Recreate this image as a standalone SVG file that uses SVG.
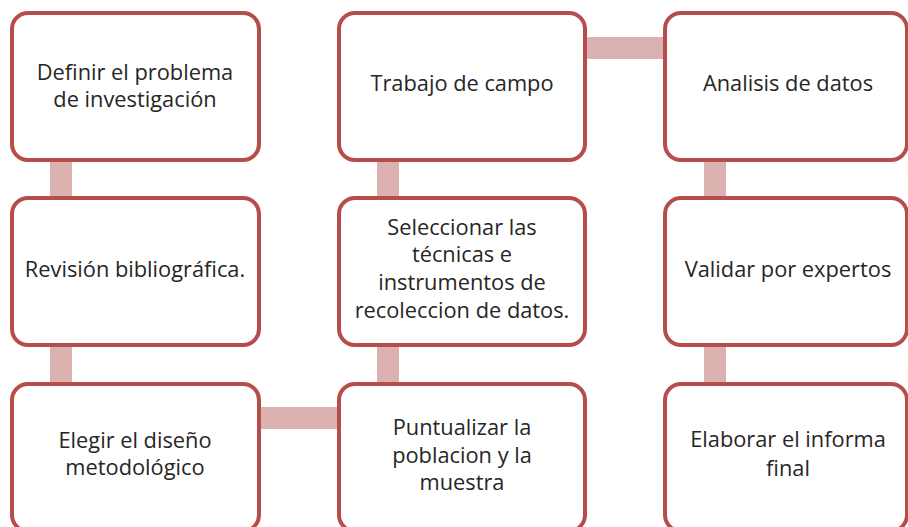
<svg xmlns="http://www.w3.org/2000/svg" width="908" height="527" viewBox="0 0 908 527">
<style>
.box{fill:#ffffff;stroke:#b64d4a;stroke-width:4}
.con{fill:#dcb2b1}
text{font-family:"Open Sans","Liberation Sans",sans-serif;font-size:21.8px;fill:#262626;text-anchor:middle}
</style>
<rect width="908" height="527" fill="#ffffff"/>
<g id="connectors">
<rect class="con" x="50" y="160" width="22" height="40"/>
<rect class="con" x="50" y="345" width="22" height="40"/>
<rect class="con" x="259" y="407" width="81" height="22"/>
<rect class="con" x="377" y="345" width="22" height="40"/>
<rect class="con" x="377" y="160" width="22" height="40"/>
<rect class="con" x="585" y="37" width="81" height="22"/>
<rect class="con" x="704" y="160" width="22" height="40"/>
<rect class="con" x="704" y="345" width="22" height="40"/>
</g>
<g id="n1"><rect class="box" x="12" y="13" width="247" height="147" rx="16"/><text x="135" y="80">Definir el problema</text><text x="135" y="107">de investigación</text></g>
<g id="n2"><rect class="box" x="12" y="198" width="247" height="147" rx="16"/><text x="135" y="277">Revisión bibliográfica.</text></g>
<g id="n3"><rect class="box" x="12" y="384" width="247" height="147" rx="16"/><text x="135" y="448">Elegir el diseño</text><text x="135" y="475">metodológico</text></g>
<g id="n4"><rect class="box" x="339" y="384" width="246" height="147" rx="16"/><text x="462" y="435">Puntualizar la</text><text x="462" y="463">poblacion y la</text><text x="462" y="490">muestra</text></g>
<g id="n5"><rect class="box" x="339" y="198" width="246" height="147" rx="16"/><text x="462" y="235">Seleccionar las</text><text x="462" y="262">técnicas e</text><text x="462" y="290">instrumentos de</text><text x="462" y="318">recoleccion de datos.</text></g>
<g id="n6"><rect class="box" x="339" y="13" width="246" height="147" rx="16"/><text x="462" y="91">Trabajo de campo</text></g>
<g id="n7"><rect class="box" x="665" y="13" width="242" height="147" rx="16"/><text x="788" y="91">Analisis de datos</text></g>
<g id="n8"><rect class="box" x="665" y="198" width="242" height="147" rx="16"/><text x="788" y="277">Validar por expertos</text></g>
<g id="n9"><rect class="box" x="665" y="384" width="242" height="147" rx="16"/><text x="788" y="447">Elaborar el informa</text><text x="788" y="476">final</text></g>
</svg>
